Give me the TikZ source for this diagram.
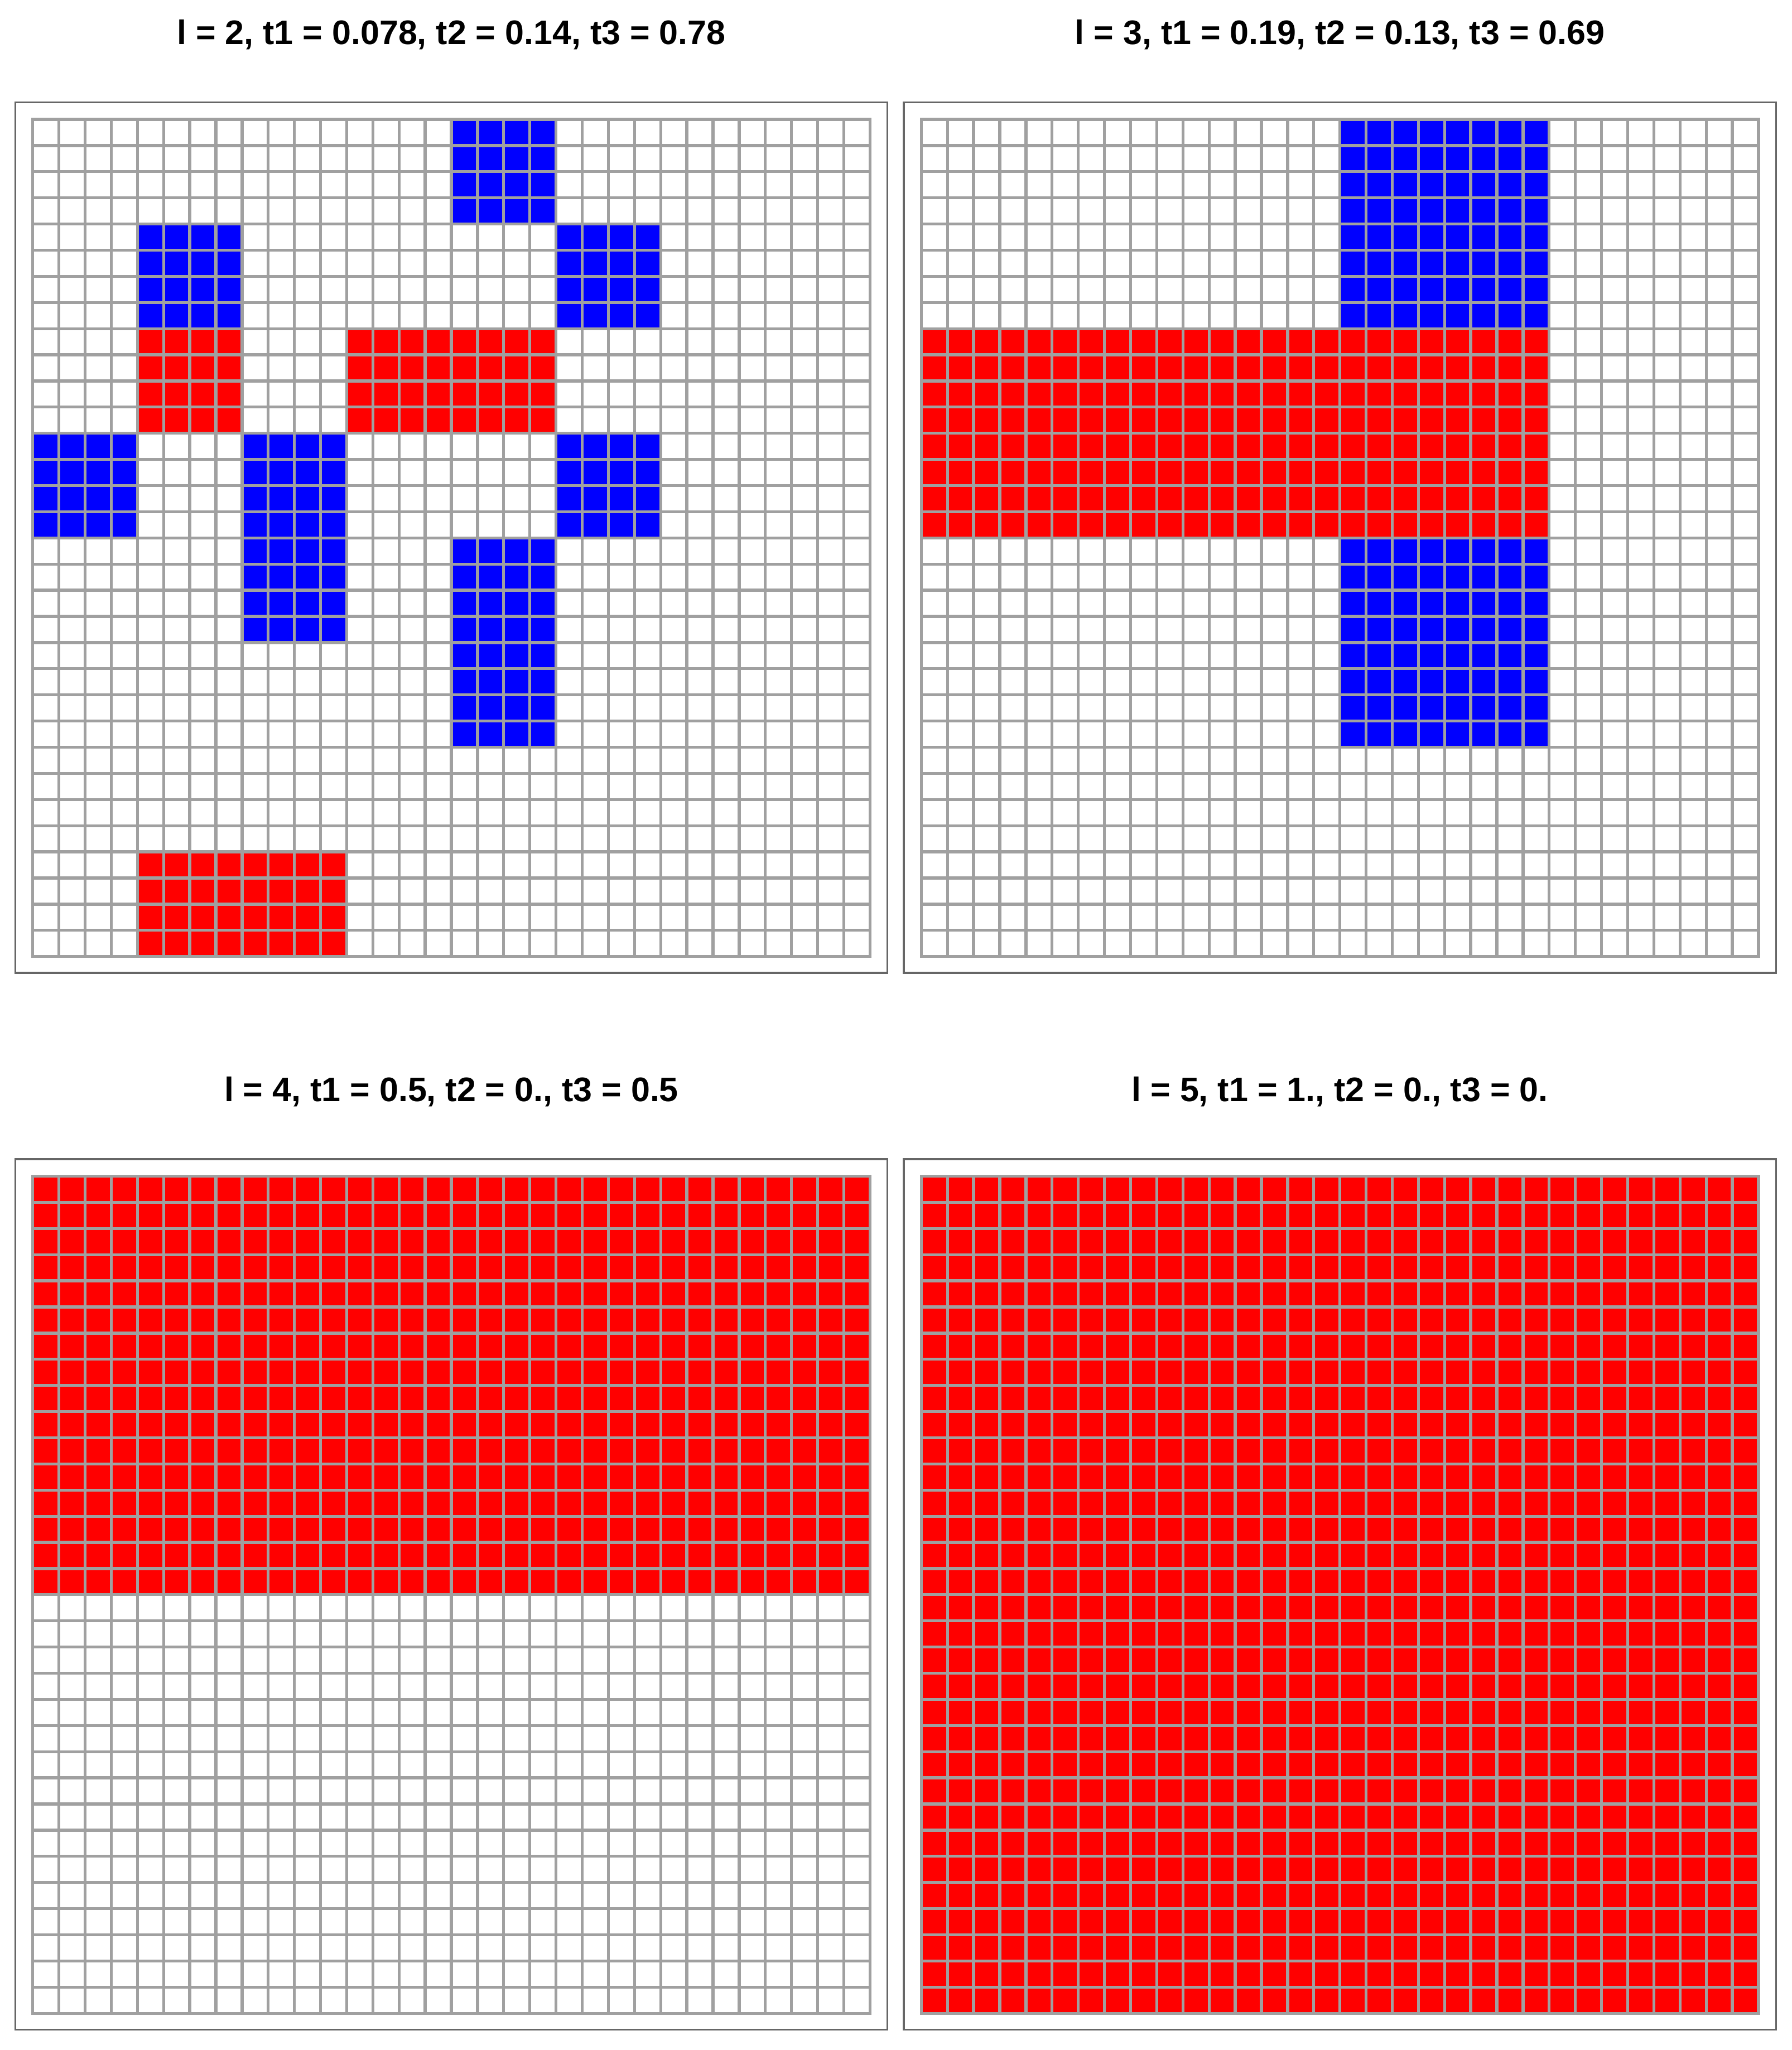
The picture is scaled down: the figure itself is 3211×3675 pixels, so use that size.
\documentclass[tikz,border=0pt]{standalone}
\usepackage{fontspec}
\setmainfont{Liberation Sans}
\definecolor{gridgray}{RGB}{160,160,160}
\definecolor{framegray}{RGB}{102,102,102}
\tikzset{
  gridline/.style={draw=gridgray, line width=1.06pt, line cap=rect},
  frameline/.style={draw=framegray, line width=0.7pt},
  paneltitle/.style={font=\bfseries\fontsize{12.2}{14}\selectfont, anchor=base, inner sep=0pt},
  bluecell/.style={fill=blue},
  redcell/.style={fill=red},
}
\newcommand\gridpanel[5]{%
  \begin{scope}[shift={(#2,#3)}]
    \draw[frameline] (-31.2,-30.5) rectangle (1532,1530);
    \node[paneltitle] (#1) at (750.3,-134) {#4};
    \begin{scope}[x=9.3788pt,y=-9.3788pt]
      #5
      \draw[gridline] \foreach \i in {0,...,32}{(\i,0)--(\i,32) (0,\i)--(32,\i)};
    \end{scope}
  \end{scope}}
\begin{document}
\begin{tikzpicture}[x=0.2pt,y=-0.2pt]
\useasboundingbox (0,0) rectangle (3211,3675);
\gridpanel{t1}{58.7}{214}{l = 2, t1 = 0.078, t2 = 0.14, t3 = 0.78}{%
  \fill[bluecell] (16,0) rectangle (20,4);
  \fill[bluecell] (4,4) rectangle (8,8);
  \fill[bluecell] (20,4) rectangle (24,8);
  \fill[redcell] (4,8) rectangle (8,12);
  \fill[redcell] (12,8) rectangle (20,12);
  \fill[bluecell] (0,12) rectangle (4,16);
  \fill[bluecell] (8,12) rectangle (12,20);
  \fill[bluecell] (20,12) rectangle (24,16);
  \fill[bluecell] (16,16) rectangle (20,24);
  \fill[redcell] (4,28) rectangle (12,32);
}
\gridpanel{t2}{1651.3}{214}{l = 3, t1 = 0.19, t2 = 0.13, t3 = 0.69}{%
  \fill[bluecell] (16,0) rectangle (24,8);
  \fill[redcell] (0,8) rectangle (24,16);
  \fill[bluecell] (16,16) rectangle (24,24);
}
\gridpanel{t3}{58.7}{2108.5}{l = 4, t1 = 0.5, t2 = 0., t3 = 0.5}{%
  \fill[redcell] (0,0) rectangle (32,16);
}
\gridpanel{t4}{1651.3}{2108.5}{l = 5, t1 = 1., t2 = 0., t3 = 0.}{%
  \fill[redcell] (0,0) rectangle (32,32);
}
\end{tikzpicture}
\end{document}
